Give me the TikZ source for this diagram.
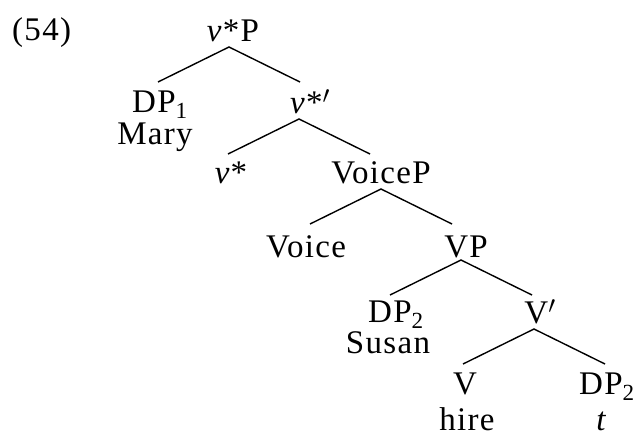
\documentclass[tikz,border=0pt]{standalone}
\usepackage{fontspec}
\setmainfont{Liberation Serif}[LetterSpace=4]
\begin{document}
\begin{tikzpicture}[x=1pt,y=-1pt,
  lab/.style={anchor=base,inner sep=0pt,font=\fontsize{33}{33}\selectfont},
  br/.style={line width=1.4pt}]
\useasboundingbox (0,0) rectangle (637,437);
\node[lab,anchor=base west] (ex) at (12,40) {(54)};
\node[lab] (vsP) at (233,41) {\textit{v}*P};
\node[lab] (dp1) at (160,112) {DP\textsubscript{1}};
\node[lab] (mary) at (155,144) {Mary};
\node[lab] (vsbar) at (310,113) {\textit{v}*$'$};
\node[lab] (vs) at (231,183) {\textit{v}*};
\node[lab] (voiceP) at (381,183) {VoiceP};
\node[lab] (voice) at (306,257) {Voice};
\node[lab] (vp) at (466,257) {VP};
\node[lab] (dp2) at (396,322) {DP\textsubscript{2}};
\node[lab] (susan) at (388,353) {Susan};
\node[lab] (vbar) at (540,323) {V$'$};
\node[lab] (v) at (465,394) {V};
\node[lab] (dp2b) at (607,394) {DP\textsubscript{2}};
\node[lab] (hire) at (467,430) {hire};
\node[lab] (t) at (602,430) {\textit{t}};
\draw[br] ([shift={(-75,41)}]vsP.base) -- ([shift={(-4,6)}]vsP.base) -- ([shift={(67,41)}]vsP.base);
\draw[br] ([shift={(-82,41)}]vsbar.base) -- ([shift={(-11,6)}]vsbar.base) -- ([shift={(60,41)}]vsbar.base);
\draw[br] ([shift={(-71,41)}]voiceP.base) -- ([shift={(0,6)}]voiceP.base) -- ([shift={(71,41)}]voiceP.base);
\draw[br] ([shift={(-76,38)}]vp.base) -- ([shift={(-5,3)}]vp.base) -- ([shift={(66,38)}]vp.base);
\draw[br] ([shift={(-77,41)}]vbar.base) -- ([shift={(-6,6)}]vbar.base) -- ([shift={(65,41)}]vbar.base);
\end{tikzpicture}
\end{document}
